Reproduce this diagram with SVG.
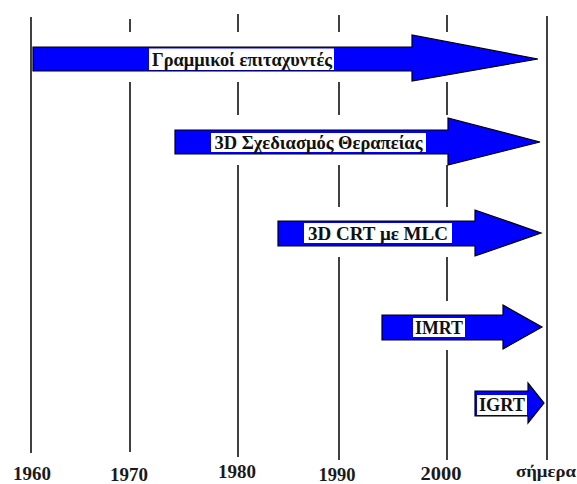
<svg xmlns="http://www.w3.org/2000/svg" width="577" height="484" viewBox="0 0 577 484">
<style>
.axis{stroke:#000;stroke-width:1.5;fill:none}
.gap{fill:#fff;stroke:none}
.arr{fill:#0000ff;stroke:#000;stroke-width:1.2;stroke-linejoin:miter}
.box{fill:#fff;stroke:none}
.lbl{font-family:"Liberation Serif","DejaVu Serif",serif;font-size:18px;font-weight:bold;fill:#111;text-anchor:middle}
.yr{font-family:"Liberation Serif","DejaVu Serif",serif;font-size:19px;font-weight:bold;fill:#1a1a1a;text-anchor:middle}
</style>
<rect width="577" height="484" fill="#fff"/>
<g id="connectors">
<line class="axis" x1="31" y1="17" x2="31" y2="453"/>
<line class="axis" x1="130" y1="19" x2="130" y2="452"/>
<line class="axis" x1="238" y1="14" x2="238" y2="457"/>
<line class="axis" x1="339" y1="15" x2="339" y2="460"/>
<line class="axis" x1="447" y1="15" x2="447" y2="460"/>
<line class="axis" x1="547" y1="16" x2="547" y2="460"/>
<rect class="gap" x="33" y="32" width="512" height="50"/>
<rect class="gap" x="175" y="115" width="370" height="50"/>
<rect class="gap" x="278" y="207" width="267" height="50"/>
<rect class="gap" x="382" y="301" width="163" height="49"/>
</g>
<g id="years">
<text class="yr" x="32" y="479.5" textLength="38" lengthAdjust="spacingAndGlyphs">1960</text>
<text class="yr" x="129" y="481" textLength="38" lengthAdjust="spacingAndGlyphs">1970</text>
<text class="yr" x="237" y="477.5" textLength="38" lengthAdjust="spacingAndGlyphs">1980</text>
<text class="yr" x="337" y="481" textLength="37" lengthAdjust="spacingAndGlyphs">1990</text>
<text class="yr" x="441" y="479.5" textLength="41" lengthAdjust="spacingAndGlyphs">2000</text>
<text class="yr" x="546" y="477" textLength="60" lengthAdjust="spacingAndGlyphs" style="font-size:17px">σήμερα</text>
</g>
<g id="linac">
<polygon class="arr" points="33,47 412,47 412,35 538,59 412,81 412,71 33,71"/>
<rect class="box" x="149" y="48.5" width="185" height="21.5"/>
<text class="lbl" x="242" y="66" textLength="180" lengthAdjust="spacingAndGlyphs">Γραμμικοί επιταχυντές</text>
</g>
<g id="plan3d">
<polygon class="arr" points="175,130 448,130 448,118 540,142 448,165 448,154 175,154"/>
<rect class="box" x="211" y="133" width="215" height="19"/>
<text class="lbl" x="318.5" y="149" textLength="208" lengthAdjust="spacingAndGlyphs">3D Σχεδιασμός Θεραπείας</text>
</g>
<g id="crt">
<polygon class="arr" points="278,221 475,221 475,210 541,233 475,256 475,246 278,246"/>
<rect class="box" x="304" y="223" width="148" height="20"/>
<text class="lbl" x="378" y="240" textLength="140" lengthAdjust="spacingAndGlyphs">3D CRT με MLC</text>
</g>
<g id="imrt">
<polygon class="arr" points="382,315 503,315 503,305 542,327 503,349 503,340 382,340"/>
<rect class="box" x="413" y="318" width="52" height="19"/>
<text class="lbl" x="439" y="334" textLength="48" lengthAdjust="spacingAndGlyphs">IMRT</text>
</g>
<g id="igrt">
<polygon class="arr" points="475,391 528,391 528,383 544,403 528,423 528,416 475,416"/>
<rect class="box" x="477" y="395" width="50" height="20" stroke="#000" stroke-width="0.8"/>
<text class="lbl" x="502" y="411" textLength="46" lengthAdjust="spacingAndGlyphs">IGRT</text>
</g>
</svg>
